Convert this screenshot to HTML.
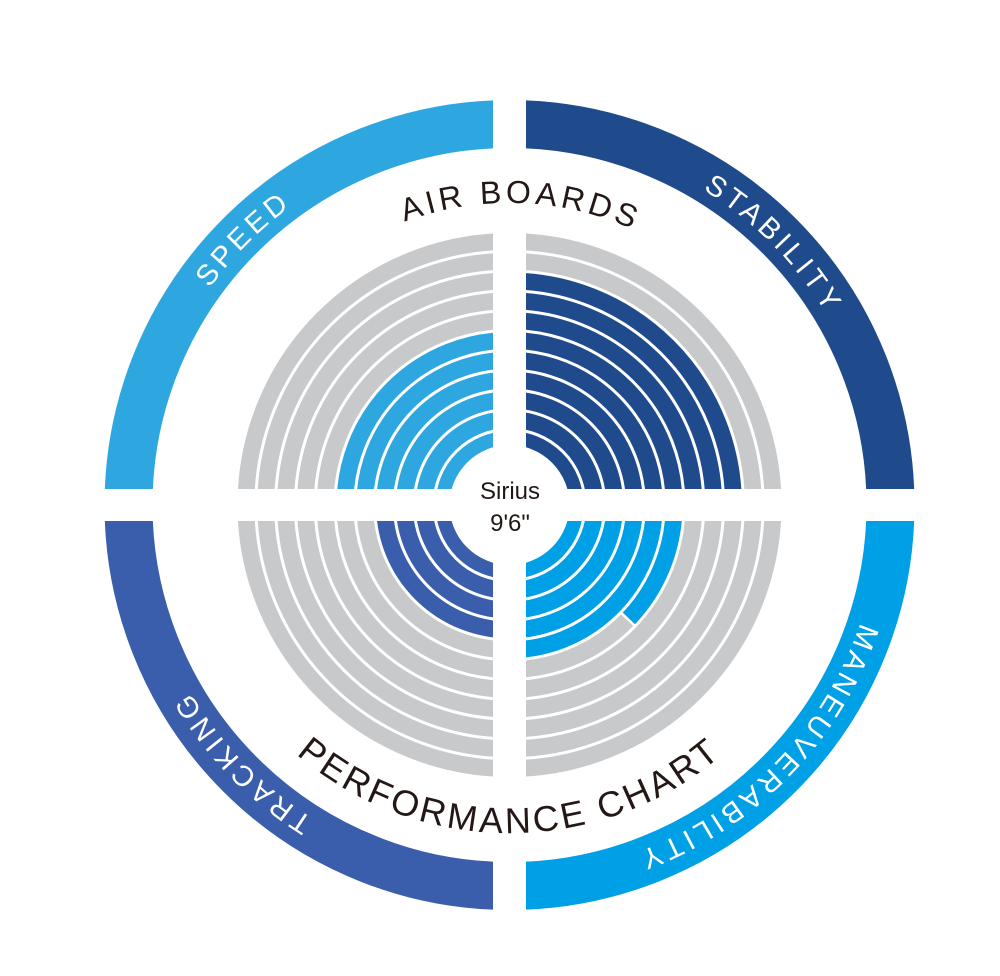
<!DOCTYPE html>
<html><head><meta charset="utf-8"><style>
html,body{margin:0;padding:0;background:#fff;}
svg{display:block;}
text{font-family:"Liberation Sans",sans-serif;}
</style></head><body>
<svg width="1000" height="976" viewBox="0 0 1000 976" xmlns="http://www.w3.org/2000/svg">
<defs>
<clipPath id="tl"><rect x="0" y="0" width="493" height="489"/></clipPath>
<clipPath id="tr"><rect x="526" y="0" width="474" height="489"/></clipPath>
<clipPath id="bl"><rect x="0" y="521" width="493" height="455"/></clipPath>
<clipPath id="br"><rect x="526" y="521" width="474" height="455"/></clipPath>
<path id="cw" d="M879.5,505 A370,370 0 1 1 139.5,505 A370,370 0 1 1 879.5,505"/>
<path id="top" d="M811.5,505 A302,302 0 1 1 207.5,505 A302,302 0 1 1 811.5,505"/>
<path id="ccw" d="M837.5,505 A328,328 0 1 0 181.5,505 A328,328 0 1 0 837.5,505"/>
</defs>
<g fill="none">
<g clip-path="url(#tl)">
<circle cx="509.5" cy="505" r="381" stroke="#2ea7e0" stroke-width="48"/>
<g stroke="#c8c9ca" stroke-width="16.8">
<circle cx="509.5" cy="505" r="263.6"/><circle cx="509.5" cy="505" r="243.8"/><circle cx="509.5" cy="505" r="224"/><circle cx="509.5" cy="505" r="204.2"/><circle cx="509.5" cy="505" r="184.4"/>
</g>
<g stroke="#2ea7e0" stroke-width="16.8">
<circle cx="509.5" cy="505" r="164.6"/><circle cx="509.5" cy="505" r="144.8"/><circle cx="509.5" cy="505" r="125"/><circle cx="509.5" cy="505" r="105.2"/><circle cx="509.5" cy="505" r="85.4"/><circle cx="509.5" cy="505" r="67" stroke-width="14"/>
</g>
</g>
<g clip-path="url(#tr)">
<circle cx="509.5" cy="505" r="381" stroke="#1f4a8b" stroke-width="48"/>
<g stroke="#c8c9ca" stroke-width="16.8">
<circle cx="509.5" cy="505" r="263.6"/><circle cx="509.5" cy="505" r="243.8"/>
</g>
<g stroke="#1f4a8b" stroke-width="16.8">
<circle cx="509.5" cy="505" r="224"/><circle cx="509.5" cy="505" r="204.2"/><circle cx="509.5" cy="505" r="184.4"/><circle cx="509.5" cy="505" r="164.6"/><circle cx="509.5" cy="505" r="144.8"/><circle cx="509.5" cy="505" r="125"/><circle cx="509.5" cy="505" r="105.2"/><circle cx="509.5" cy="505" r="85.4"/><circle cx="509.5" cy="505" r="67" stroke-width="14"/>
</g>
</g>
<g clip-path="url(#bl)">
<circle cx="509.5" cy="505" r="381" stroke="#3a5eab" stroke-width="48"/>
<g stroke="#c8c9ca" stroke-width="16.8">
<circle cx="509.5" cy="505" r="263.6"/><circle cx="509.5" cy="505" r="243.8"/><circle cx="509.5" cy="505" r="224"/><circle cx="509.5" cy="505" r="204.2"/><circle cx="509.5" cy="505" r="184.4"/><circle cx="509.5" cy="505" r="164.6"/><circle cx="509.5" cy="505" r="144.8"/>
</g>
<g stroke="#3a5eab" stroke-width="16.8">
<circle cx="509.5" cy="505" r="125"/><circle cx="509.5" cy="505" r="105.2"/><circle cx="509.5" cy="505" r="85.4"/><circle cx="509.5" cy="505" r="67" stroke-width="14"/>
</g>
</g>
<g clip-path="url(#br)">
<circle cx="509.5" cy="505" r="381" stroke="#00a0e6" stroke-width="48"/>
<g stroke="#c8c9ca" stroke-width="16.8">
<circle cx="509.5" cy="505" r="263.6"/><circle cx="509.5" cy="505" r="243.8"/><circle cx="509.5" cy="505" r="224"/><circle cx="509.5" cy="505" r="204.2"/><circle cx="509.5" cy="505" r="184.4"/><circle cx="509.5" cy="505" r="164.6"/>
</g>
<path d="M674.1,505 A164.6,164.6 0 0 1 627.9,619.4" stroke="#00a0e6" stroke-width="16.8"/>
<line x1="620.5" y1="612.2" x2="635" y2="626" stroke="#fff" stroke-width="2.5"/>
<g stroke="#00a0e6" stroke-width="16.8">
<circle cx="509.5" cy="505" r="144.8"/><circle cx="509.5" cy="505" r="125"/><circle cx="509.5" cy="505" r="105.2"/><circle cx="509.5" cy="505" r="85.4"/><circle cx="509.5" cy="505" r="67" stroke-width="14"/>
</g>
</g>
</g>
<g fill="#fff" font-size="29" letter-spacing="4">
<text><textPath href="#cw" startOffset="62.5%" text-anchor="middle">SPEED</textPath></text>
<text><textPath href="#cw" startOffset="87.6%" text-anchor="middle">STABILITY</textPath></text>
<text><textPath href="#cw" startOffset="12.3%" text-anchor="middle">MANEUVERABILITY</textPath></text>
<text><textPath href="#cw" startOffset="37.8%" text-anchor="middle">TRACKING</textPath></text>
</g>
<g fill="#231815">
<text font-size="32" letter-spacing="4"><textPath href="#top" startOffset="75.6%" text-anchor="middle">AIR  BOARDS</textPath></text>
<text font-size="36" letter-spacing="3"><textPath href="#ccw" startOffset="75%" text-anchor="middle">PERFORMANCE CHART</textPath></text>
<text x="510" y="499" font-size="24" text-anchor="middle">Sirius</text>
<text x="510" y="531" font-size="24" text-anchor="middle">9'6"</text>
</g>
</svg>
</body></html>
